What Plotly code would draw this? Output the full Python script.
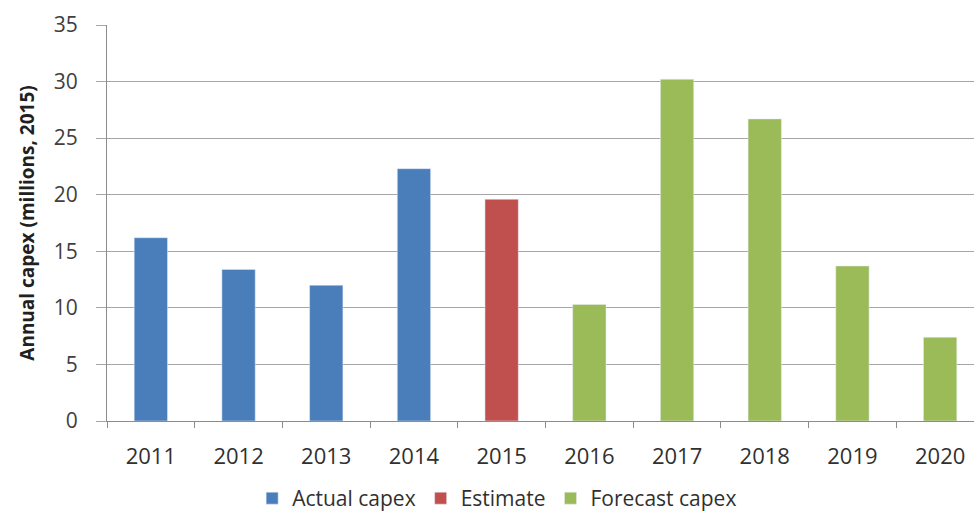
import plotly.graph_objects as go

years = ["2011", "2012", "2013", "2014", "2015", "2016", "2017", "2018", "2019", "2020"]
actual_years = ["2011", "2012", "2013", "2014"]
actual_vals = [16.2, 13.4, 12.0, 22.3]
estimate_years = ["2015"]
estimate_vals = [19.6]
forecast_years = ["2016", "2017", "2018", "2019", "2020"]
forecast_vals = [10.3, 30.2, 26.7, 13.7, 7.4]

fig = go.Figure()
fig.add_trace(go.Bar(x=actual_years, y=actual_vals, name="Actual capex",
                     marker_color="#4A7EBB", width=0.38))
fig.add_trace(go.Bar(x=estimate_years, y=estimate_vals, name="Estimate",
                     marker_color="#C0504D", width=0.38))
fig.add_trace(go.Bar(x=forecast_years, y=forecast_vals, name="Forecast capex",
                     marker_color="#9BBB59", width=0.38))

fig.update_layout(
    width=974, height=519,
    margin=dict(l=107, r=0, t=25, b=98, autoexpand=False),
    paper_bgcolor="white", plot_bgcolor="white",
    barmode="overlay",
    font=dict(family="Open Sans", color="#404040", size=20),
    legend=dict(orientation="h", x=0.45, xanchor="center",
                yref="container", y=0.0, yanchor="bottom",
                font=dict(size=21, color="#303030"), traceorder="normal",
                itemwidth=30, entrywidth=0),
    showlegend=True,
)
fig.update_xaxes(
    type="category", categoryorder="array", categoryarray=years,
    range=[-0.5, 9.386],
    showline=True, linecolor="#8c8c8c", linewidth=1,
    ticks="outside", tickson="boundaries", ticklen=6, tickcolor="#8c8c8c",
    tickfont=dict(size=22, color="#303030"),
    ticklabelstandoff=16,
    showgrid=False, automargin=False,
)
fig.update_yaxes(
    range=[0, 35], dtick=5,
    showline=True, linecolor="#8c8c8c", linewidth=1,
    ticks="outside", ticklen=10, tickcolor="#a6a6a6",
    showgrid=True, gridcolor="#a6a6a6", gridwidth=1,
    tickfont=dict(size=21, color="#404040"),
    ticklabelstandoff=14,
    title=dict(text="<b>Annual capex (millions, 2015)</b>", font=dict(size=19, color="#202020"),
               standoff=14),
    zeroline=False, automargin=False,
)

fig.write_html("out.html")
